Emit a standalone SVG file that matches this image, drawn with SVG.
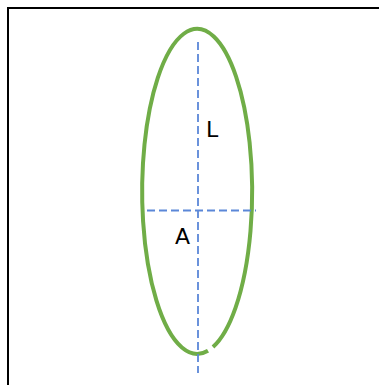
<svg xmlns="http://www.w3.org/2000/svg" width="379" height="385" viewBox="0 0 379 385">
<style>
.axis{stroke:#5b87d8;stroke-width:1.8;stroke-dasharray:8 4;fill:none}
.lbl{font-family:"DejaVu Sans","Liberation Sans",sans-serif;font-size:22px;fill:#000}
</style>
<rect width="379" height="385" fill="#fff"/>
<rect x="8" y="8" width="400" height="400" fill="none" stroke="#000" stroke-width="2"/>
<g id="ellipse">
<path d="M 213 347 A 55 162.5 0 1 0 208 350.7" fill="none" stroke="#70ad47" stroke-width="4"/>
</g>
<g id="connectors">
<line class="axis" x1="198" y1="42" x2="198" y2="373"/>
<line class="axis" x1="147" y1="210.5" x2="256" y2="210.5"/>
</g>
<g id="label-L"><text class="lbl" x="206" y="137">L</text></g>
<g id="label-A"><text class="lbl" x="175" y="244">A</text></g>
</svg>
